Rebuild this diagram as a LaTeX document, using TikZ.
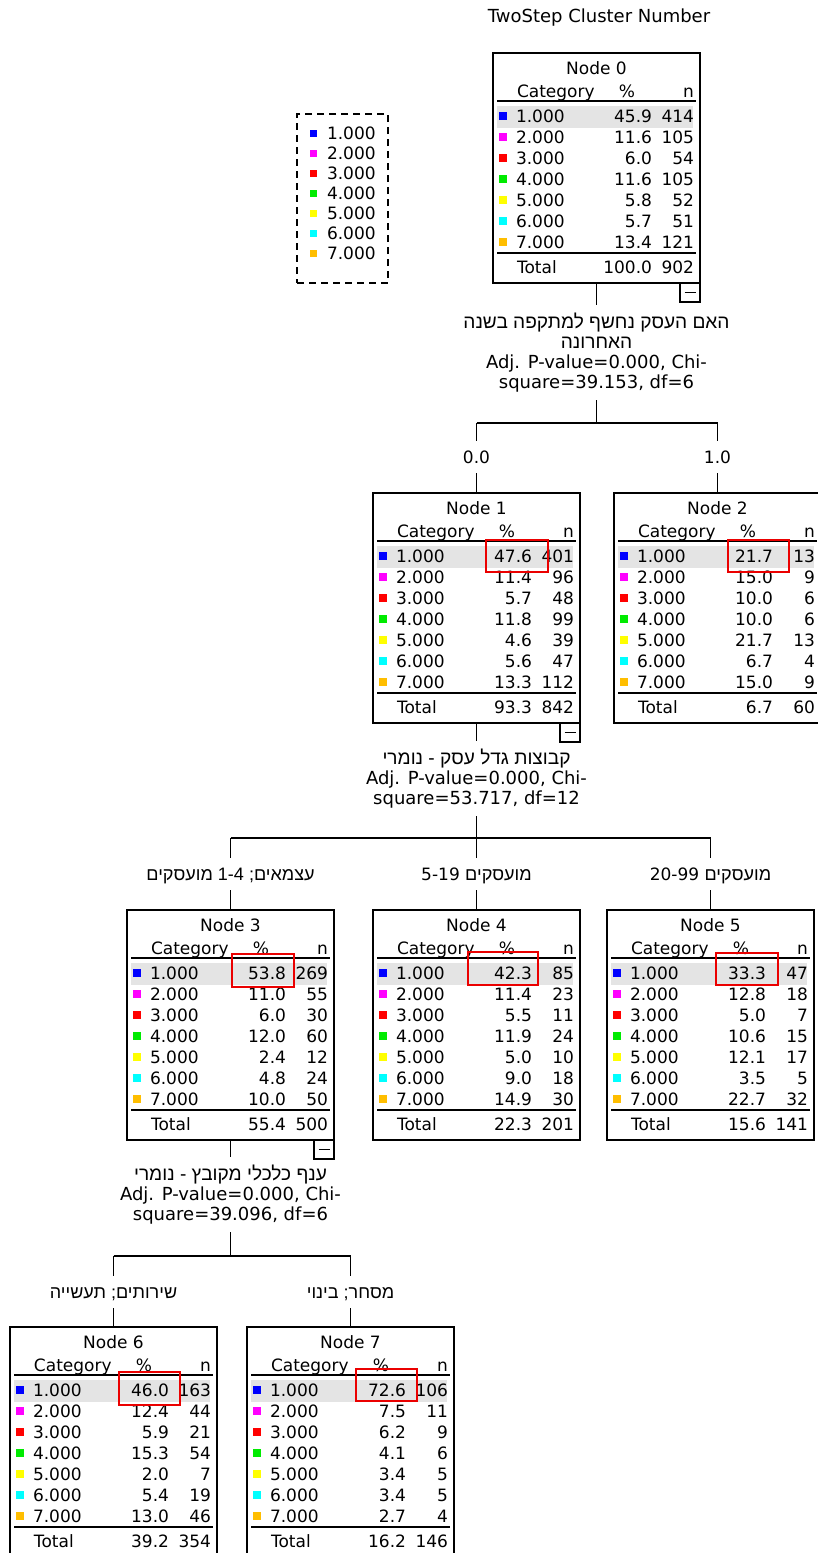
\documentclass[tikz,border=0pt]{standalone}
\usepackage{fontspec}
\setmainfont{DejaVu Sans}
\newfontfamily\hebfont[Script=Hebrew,Scale=1.06]{Liberation Sans}
\TeXXeTstate=1
\usepackage{tikz}
\usetikzlibrary{calc}
\definecolor{CatBlue}{RGB}{0,0,255}
\definecolor{CatMagenta}{RGB}{255,0,255}
\definecolor{CatRed}{RGB}{255,0,0}
\definecolor{CatGreen}{RGB}{0,235,0}
\definecolor{CatYellow}{RGB}{255,255,0}
\definecolor{CatCyan}{RGB}{0,255,255}
\definecolor{CatOrange}{RGB}{255,190,0}
\definecolor{BandGray}{RGB}{228,228,228}
\definecolor{MarkRed}{RGB}{235,0,0}
\colorlet{cat1}{CatBlue}
\colorlet{cat2}{CatMagenta}
\colorlet{cat3}{CatRed}
\colorlet{cat4}{CatGreen}
\colorlet{cat5}{CatYellow}
\colorlet{cat6}{CatCyan}
\colorlet{cat7}{CatOrange}
\newcommand{\spss}{\fontsize{17}{20}\selectfont}
\newcommand{\spssl}{\fontsize{18}{20}\selectfont}
\tikzset{
  tbox/.style={draw,line width=1.3pt,minimum width=207pt,minimum height=230pt,
               inner sep=0pt,outer sep=0pt,anchor=north west},
  celltxt/.style={inner sep=0pt,outer sep=0pt,font=\spss},
  hrule/.style={line width=1.3pt},
  minusbox/.style={draw,line width=1.2pt,minimum width=20pt,minimum height=19pt,
                   inner sep=0pt,outer sep=0pt,anchor=north east},
  splitlbl/.style={align=center,font=\spssl,inner xsep=0pt,inner ysep=8pt,
                   outer sep=0pt,anchor=north},
  branchlbl/.style={font=\spss,text height=12pt,text depth=0pt,inner xsep=0pt,
                    inner ysep=10pt,outer sep=0pt},
  legbox/.style={draw,line width=1.2pt,dash pattern=on 7pt off 5pt,
                 minimum width=91pt,minimum height=169pt,inner sep=0pt},
  link/.style={line width=1.2pt},
  hilite/.style={draw=MarkRed,line width=1.5pt},
}
% one tree node: number, top-left x, top-left y, rows pct/n, total pct, total n
\newcommand{\treenode}[6]{%
  \node[tbox] (n#1) at (#2,#3) {};
  \fill[BandGray] ($(n#1.north west)+(4,53)$) rectangle ($(n#1.north west)+(200,75)$);
  \node[celltxt,anchor=base] (n#1-t) at ($(n#1.north)+(0,21)$) {Node #1};
  \node[celltxt,anchor=base west] (n#1-c) at ($(n#1.north west)+(24,44)$) {Category};
  \node[celltxt,anchor=base] (n#1-p) at ($(n#1.north west)+(134,44)$) {\%};
  \node[celltxt,anchor=base east] (n#1-n) at ($(n#1.north west)+(201,44)$) {n};
  \draw[hrule] ($(n#1.north west)+(4,48)$) -- ($(n#1.north west)+(203,48)$);
  \foreach \p/\q [count=\i] in {#4} {
    \fill[cat\i] ($(n#1.north west)+(6,38+21*\i)$) rectangle ($(n#1.north west)+(14,46+21*\i)$);
    \node[celltxt,anchor=base west] (n#1-k\i) at ($(n#1.north west)+(23,48+21*\i)$) {\i.000};
    \node[celltxt,anchor=base east] (n#1-p\i) at ($(n#1.north west)+(159,48+21*\i)$) {\p};
    \node[celltxt,anchor=base east] (n#1-n\i) at ($(n#1.north west)+(201,48+21*\i)$) {\q};
  }
  \draw[hrule] ($(n#1.north west)+(4,200)$) -- ($(n#1.north west)+(203,200)$);
  \node[celltxt,anchor=base west] (n#1-tt) at ($(n#1.north west)+(24,220)$) {Total};
  \node[celltxt,anchor=base east] (n#1-tp) at ($(n#1.north west)+(159,220)$) {#5};
  \node[celltxt,anchor=base east] (n#1-tn) at ($(n#1.north west)+(201,220)$) {#6};
}
\newcommand{\heb}[1]{{\hebfont\beginR #1\endR}}

\begin{document}
\begin{tikzpicture}[x=1pt,y=-1pt]
  \useasboundingbox (0,0) rectangle (818,1553);
  % title
  \node[celltxt,font=\spssl] (title) at (599,18) {TwoStep Cluster Number};
  % legend
  \node[legbox] (legend) at (342.5,198.5) {};
  \foreach \i in {1,...,7} {
    \fill[cat\i] (309.5,109.5+20*\i) rectangle ++(7,7);
    \node[celltxt,anchor=base west] (leg\i) at (327,119+20*\i) {\i.000};
  }
  % tree nodes
  \treenode{0}{493}{53}{45.9/414,11.6/105,6.0/54,11.6/105,5.8/52,5.7/51,13.4/121}{100.0}{902}
  \treenode{1}{373}{493}{47.6/401,11.4/96,5.7/48,11.8/99,4.6/39,5.6/47,13.3/112}{93.3}{842}
  \treenode{2}{614}{493}{21.7/13,15.0/9,10.0/6,10.0/6,21.7/13,6.7/4,15.0/9}{6.7}{60}
  \treenode{3}{127}{910}{53.8/269,11.0/55,6.0/30,12.0/60,2.4/12,4.8/24,10.0/50}{55.4}{500}
  \treenode{4}{373}{910}{42.3/85,11.4/23,5.5/11,11.9/24,5.0/10,9.0/18,14.9/30}{22.3}{201}
  \treenode{5}{607}{910}{33.3/47,12.8/18,5.0/7,10.6/15,12.1/17,3.5/5,22.7/32}{15.6}{141}
  \treenode{6}{10}{1327}{46.0/163,12.4/44,5.9/21,15.3/54,2.0/7,5.4/19,13.0/46}{39.2}{354}
  \treenode{7}{247}{1327}{72.6/106,7.5/11,6.2/9,4.1/6,3.4/5,3.4/5,2.7/4}{16.2}{146}
  % collapse boxes
  \node[minusbox] (n0-m) at (n0.south east) {\rule{11pt}{1.2pt}};
  \node[minusbox] (n1-m) at (n1.south east) {\rule{11pt}{1.2pt}};
  \node[minusbox] (n3-m) at (n3.south east) {\rule{11pt}{1.2pt}};
  % split of node 0
  \node[splitlbl] (q0) at (596.5,305)
    {\heb{האם העסק נחשף למתקפה בשנה}\\\heb{האחרונה}\\Adj. P-value=0.000, Chi-\\square=39.153, df=6};
  \coordinate (b0) at (596.5,423);
  \draw[link] (n0.south) -- (q0.north);
  \draw[link] (q0.south) -- (b0);
  \draw[link] (n1.north |- b0) -- (n2.north |- b0);
  \node[branchlbl] (e1) at (476.5,457) {0.0};
  \node[branchlbl] (e2) at (717.5,457) {1.0};
  \draw[link] (n1.north |- b0) -- (e1.north);
  \draw[link] (e1.south) -- (n1.north);
  \draw[link] (n2.north |- b0) -- (e2.north);
  \draw[link] (e2.south) -- (n2.north);
  % split of node 1
  \node[splitlbl] (q1) at (476.5,741)
    {\heb{קבוצות גדל עסק - נומרי}\\Adj. P-value=0.000, Chi-\\square=53.717, df=12};
  \coordinate (b1) at (476.5,838);
  \draw[link] (n1.south) -- (q1.north);
  \draw[link] (q1.south) -- (b1);
  \draw[link] (n3.north |- b1) -- (n5.north |- b1);
  \node[branchlbl] (e3) at (230.5,874) {\heb{עצמאים; \beginL 1-4\endL{} מועסקים}};
  \node[branchlbl] (e4) at (476.5,874) {5-19 \heb{מועסקים}};
  \node[branchlbl] (e5) at (710.5,874) {20-99 \heb{מועסקים}};
  \foreach \k in {3,4,5} {
    \draw[link] (n\k.north |- b1) -- (e\k.north);
    \draw[link] (e\k.south) -- (n\k.north);
  }
  % split of node 3
  \node[splitlbl] (q3) at (230.5,1157)
    {\heb{ענף כלכלי מקובץ - נומרי}\\Adj. P-value=0.000, Chi-\\square=39.096, df=6};
  \coordinate (b3) at (230.5,1256);
  \draw[link] (n3.south) -- (q3.north);
  \draw[link] (q3.south) -- (b3);
  \draw[link] (n6.north |- b3) -- (n7.north |- b3);
  \node[branchlbl] (e6) at (113.5,1292) {\heb{שירותים; תעשייה}};
  \node[branchlbl] (e7) at (350.5,1292) {\heb{מסחר; בינוי}};
  \foreach \k in {6,7} {
    \draw[link] (n\k.north |- b3) -- (e\k.north);
    \draw[link] (e\k.south) -- (n\k.north);
  }
  % red marks
  \draw[hilite] (486,540) rectangle (548,572);
  \draw[hilite] (728,540) rectangle (789,572);
  \draw[hilite] (232,954) rectangle (294,987);
  \draw[hilite] (468,952) rectangle (538,985);
  \draw[hilite] (716,953) rectangle (778,985);
  \draw[hilite] (119,1372) rectangle (180,1405);
  \draw[hilite] (356,1369) rectangle (417,1401);
\end{tikzpicture}
\end{document}
